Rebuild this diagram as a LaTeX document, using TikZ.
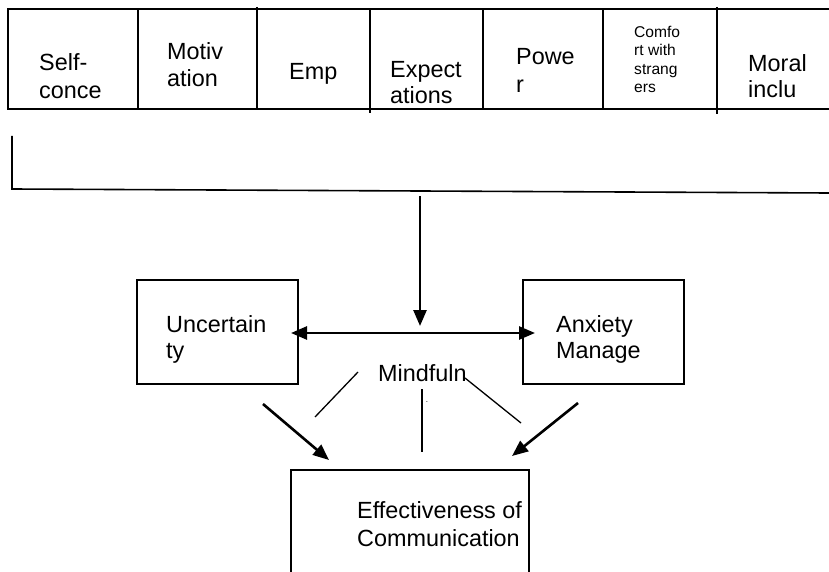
\documentclass[tikz,border=0pt]{standalone}
\usepackage{fontspec}
\setmainfont{Liberation Sans}
\usetikzlibrary{arrows.meta}
\begin{document}
\begin{tikzpicture}[x=1pt,y=-1pt,
  lbl/.style={anchor=base west, inner sep=0pt, font=\fontsize{23.4}{27}\selectfont},
  smalllbl/.style={anchor=base west, inner sep=0pt, font=\fontsize{15.6}{18}\selectfont},
  box/.style={draw, line width=1.6pt, inner sep=0pt},
  rule/.style={line width=1.6pt},
  tip/.style={Triangle[length=16pt,width=13pt]},
  arr/.style={line width=2.6pt, -{Triangle[length=16pt,width=13pt]}},
  thinline/.style={line width=1.3pt}]
\useasboundingbox (0,0) rectangle (829,572);
% top table
\draw[rule] (829,9) -- (8,9) -- (8,109) -- (829,109);
\draw[rule] (138,9) -- (138,109);
\draw[rule] (257,7) -- (257,109);
\draw[rule] (370,9) -- (370,113);
\draw[rule] (483,9) -- (483,109);
\draw[rule] (603,9) -- (603,109);
\draw[rule] (717,7) -- (717,114);
% table texts
\node[lbl] (s1) at (39,71) {Self-};
\node[lbl] (s2) at (39,99) {conce};
\node[lbl] (m1) at (167,60) {Motiv};
\node[lbl] (m2) at (167,87) {ation};
\node[lbl] (e1) at (289,80) {Emp};
\node[lbl] (x1) at (390,78) {Expect};
\node[lbl] (x2) at (390,104) {ations};
\node[lbl] (p1) at (516,65) {Powe};
\node[lbl] (p2) at (516,93) {r};
\node[smalllbl] (c1) at (634,38) {Comfo};
\node[smalllbl] (c2) at (634,56) {rt with};
\node[smalllbl] (c3) at (634,75) {strang};
\node[smalllbl] (c4) at (634,93) {ers};
\node[lbl] (o1) at (748,72) {Moral};
\node[lbl] (o2) at (748,98) {inclu};
% bracket
\draw[rule] (12,136) -- (12,189) -- (829,193);
% boxes
\node[box, minimum width=161pt, minimum height=104pt] (unc) at (217.5,332) {};
\node[box, minimum width=161pt, minimum height=104pt] (anx) at (603.5,332) {};
\node[box, minimum width=238pt, minimum height=140pt] (eff) at (410,540) {};
\node[lbl] (u1) at (166,332) {Uncertain};
\node[lbl] (u2) at (166,358) {ty};
\node[lbl] (a1) at (556,332) {Anxiety};
\node[lbl] (a2) at (556,358) {Manage};
\node[lbl] (f1) at (357,518) {Effectiveness of};
\node[lbl] (f2) at (357,546) {Communication};
\node[lbl] (mind) at (378,381) {Mindfuln};
\node[anchor=base, inner sep=0pt, font=\fontsize{8}{9}\selectfont] (dot) at (427,402) {.};
% arrows
\coordinate (vt) at (420,196);
\coordinate (vb) at (420,326);
\draw[arr] (vt) -- (vb);
\coordinate (hl) at (291,333);
\coordinate (hr) at (535,333);
\draw[line width=2.6pt, {Triangle[length=16pt,width=13pt]}-{Triangle[length=16pt,width=13pt]}] (hl) -- (hr);
\coordinate (la) at (263,404);
\coordinate (lt) at (329,460);
\draw[arr] (la) -- (lt);
\coordinate (ra) at (578,403);
\coordinate (rt) at (512,456);
\draw[arr] (ra) -- (rt);
% mindfulness lines
\coordinate (ml1) at (358,372);
\coordinate (ml2) at (315,417);
\draw[thinline] (ml1) -- (ml2);
\coordinate (mc1) at (422,389);
\coordinate (mc2) at (422,452);
\draw[thinline] (mc1) -- (mc2);
\coordinate (mr1) at (465,378);
\coordinate (mr2) at (521,423);
\draw[thinline] (mr1) -- (mr2);
\end{tikzpicture}
\end{document}
